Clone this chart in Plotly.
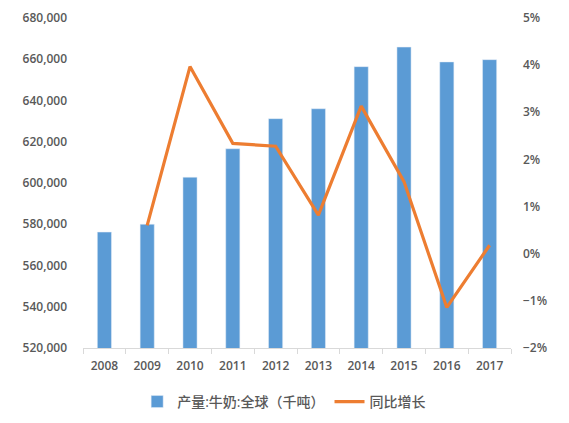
import plotly.graph_objects as go

# 年份与数据
years = ["2008", "2009", "2010", "2011", "2012", "2013", "2014", "2015", "2016", "2017"]
produccion = [576200, 580000, 602800, 616600, 631200, 636000, 656400, 665900, 658700, 659800]
crecimiento = [None, 0.0060, 0.0397, 0.0234, 0.0228, 0.0082, 0.0313, 0.0153, -0.0114, 0.0018]

fuente = "Open Sans, Noto Sans CJK SC, sans-serif"
gris = "#595959"

fig = go.Figure()

fig.add_trace(go.Bar(
    x=years, y=produccion,
    name="产量:牛奶:全球（千吨）",
    marker_color="#5B9BD5",
))

fig.add_trace(go.Scatter(
    x=years, y=crecimiento,
    name="同比增长",
    mode="lines",
    line=dict(color="#ED7D31", width=3.2),
    yaxis="y2",
    connectgaps=False,
))

# la página tiene 8px de margen en el body, por eso 561x415
fig.update_layout(
    width=561, height=415,
    margin=dict(l=75, r=58, t=10, b=75, autoexpand=False),
    plot_bgcolor="white",
    paper_bgcolor="white",
    bargap=0.67,
    font=dict(family=fuente, size=12, color=gris, weight=600),
    showlegend=True,
    legend=dict(
        orientation="h",
        x=0.47, xanchor="center",
        y=-0.115, yanchor="top",
        font=dict(size=14, color=gris, weight=500),
        itemwidth=30,
    ),
    xaxis=dict(
        type="category",
        automargin=False,
        showline=True, linecolor="#D9D9D9", linewidth=1,
        ticks="outside", tickson="boundaries", ticklen=5, tickcolor="#D9D9D9",
        showgrid=False,
        ticklabelstandoff=7,
        tickfont=dict(size=12, color=gris, weight=600),
    ),
    yaxis=dict(
        range=[520000, 680000], dtick=20000,
        tickformat=",",
        automargin=False,
        showgrid=False, zeroline=False,
        ticks="", ticklabelstandoff=15,
        tickfont=dict(size=12, color=gris, weight=600),
    ),
    yaxis2=dict(
        overlaying="y", side="right",
        range=[-0.02, 0.05], dtick=0.01,
        tickformat=".0%",
        automargin=False,
        showgrid=False, zeroline=False,
        ticks="", ticklabelstandoff=11,
        tickfont=dict(size=12, color=gris, weight=600),
    ),
)

fig.write_html("out.html")
